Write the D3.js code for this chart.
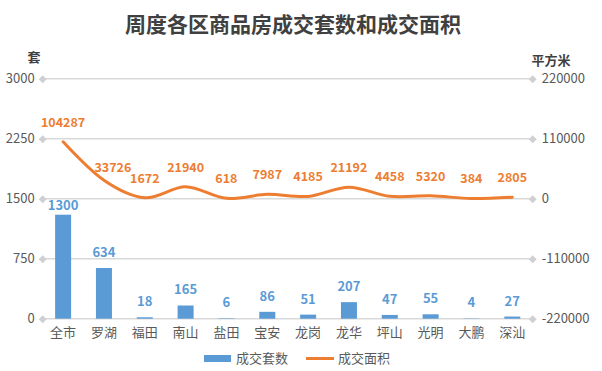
<!DOCTYPE html>
<html>
<head>
<meta charset="utf-8">
<script src="https://cdn.jsdelivr.net/npm/d3@7"></script>
<style>
  body { margin: 0; background: #fff; }
  svg text { font-family: "Noto Sans CJK SC", "Noto Sans", sans-serif; }
</style>
</head>
<body>
<svg id="chart"></svg>
<script>
// chart data
const districts = ['全市', '罗湖', '福田', '南山', '盐田', '宝安', '龙岗', '龙华', '坪山', '光明', '大鹏', '深汕'];
const units = [1300, 634, 18, 165, 6, 86, 51, 207, 47, 55, 4, 27];
const areas = [104287, 33726, 1672, 21940, 618, 7987, 4185, 21192, 4458, 5320, 384, 2805];
const leftTicks = [0, 750, 1500, 2250, 3000];
const rightTicks = [-220000, -110000, 0, 110000, 220000];

const width = 602, height = 371;
const margin = {top: 78.7, right: 69.3, bottom: 52.3, left: 42.7};
const innerW = width - margin.left - margin.right;
const innerH = height - margin.top - margin.bottom;

const blue = '#5B9BD5', orange = '#ED7D31';

const svg = d3.select('#chart')
    .attr('width', width)
    .attr('height', height);

// title
svg.append('text')
    .attr('x', 293)
    .attr('y', 32)
    .attr('text-anchor', 'middle')
    .attr('font-size', 21)
    .attr('font-weight', 'bold')
    .attr('fill', '#404040')
    .text('周度各区商品房成交套数和成交面积');

const chart = svg.append('g')
    .attr('transform', `translate(${margin.left},${margin.top})`);

const xScale = d3.scaleBand()
    .domain(districts)
    .range([0, innerW]);

const yLeft = d3.scaleLinear()
    .domain([0, 3000])
    .range([innerH, 0]);

const yRight = d3.scaleLinear()
    .domain([-220000, 220000])
    .range([innerH, 0]);

// gridlines
chart.append('g')
    .selectAll('line')
    .data(leftTicks)
    .join('line')
    .attr('x1', 0)
    .attr('x2', innerW)
    .attr('y1', d => yLeft(d))
    .attr('y2', d => yLeft(d))
    .attr('stroke', '#D9D9D9')
    .attr('stroke-width', 1.5);

// plain numbers with a hyphen minus, like the original
const plain = d => String(d);

// left axis
const yAxisL = d3.axisLeft(yLeft)
    .tickValues(leftTicks)
    .tickFormat(plain)
    .tickSize(0)
    .tickPadding(8);

const leftG = chart.append('g').call(yAxisL);
leftG.select('.domain').remove();
leftG.selectAll('text')
    .attr('font-size', 13)
    .attr('fill', '#595959');
leftG.selectAll('.tick').append('path')
    .attr('d', 'M0,-4L4,0L0,4L-4,0Z')
    .attr('fill', '#D0D0D0');

// right axis
const yAxisR = d3.axisRight(yRight)
    .tickValues(rightTicks)
    .tickFormat(plain)
    .tickSize(0)
    .tickPadding(9);

const rightG = chart.append('g')
    .attr('transform', `translate(${innerW},0)`)
    .call(yAxisR);
rightG.select('.domain').remove();
rightG.selectAll('text')
    .attr('font-size', 13)
    .attr('fill', '#595959');
rightG.selectAll('.tick').append('path')
    .attr('d', 'M0,-4L4,0L0,4L-4,0Z')
    .attr('fill', '#D0D0D0');

// x axis
const xAxis = d3.axisBottom(xScale)
    .tickSize(0)
    .tickPadding(9);

const xG = chart.append('g')
    .attr('transform', `translate(0,${innerH})`)
    .call(xAxis);
xG.select('.domain').remove();
xG.selectAll('text')
    .attr('font-size', 13)
    .attr('fill', '#595959');

// axis units
svg.append('text')
    .attr('x', 34)
    .attr('y', 62)
    .attr('text-anchor', 'middle')
    .attr('font-size', 13)
    .attr('font-weight', 'bold')
    .attr('fill', '#404040')
    .text('套');

svg.append('text')
    .attr('x', 551)
    .attr('y', 65)
    .attr('text-anchor', 'middle')
    .attr('font-size', 13)
    .attr('font-weight', 'bold')
    .attr('fill', '#404040')
    .text('平方米');

// bars
const barW = 16;
chart.append('g')
    .selectAll('rect')
    .data(units)
    .join('rect')
    .attr('x', (d, i) => xScale(districts[i]) + xScale.bandwidth() / 2 - barW / 2)
    .attr('y', d => yLeft(d))
    .attr('width', barW)
    .attr('height', d => innerH - yLeft(d))
    .attr('fill', blue);

// bar labels (first one was nudged down in the original to clear the line)
chart.append('g')
    .selectAll('text')
    .data(units)
    .join('text')
    .attr('x', (d, i) => xScale(districts[i]) + xScale.bandwidth() / 2)
    .attr('y', (d, i) => yLeft(d) - (i === 0 ? 5 : 11))
    .attr('text-anchor', 'middle')
    .attr('font-size', 13)
    .attr('font-weight', 'bold')
    .attr('fill', blue)
    .text(d => d);

// area line
const line = d3.line()
    .x((d, i) => xScale(districts[i]) + xScale.bandwidth() / 2)
    .y(d => yRight(d))
    .curve(d3.curveCardinal.tension(0));

chart.append('path')
    .datum(areas)
    .attr('d', line)
    .attr('fill', 'none')
    .attr('stroke', orange)
    .attr('stroke-width', 3)
    .attr('stroke-linecap', 'round');

// line labels
chart.append('g')
    .selectAll('text')
    .data(areas)
    .join('text')
    .attr('x', (d, i) => xScale(districts[i]) + xScale.bandwidth() / 2 + (i === 1 ? 9 : 0))
    .attr('y', (d, i) => yRight(d) - (i === 1 ? 8 : 15))
    .attr('text-anchor', 'middle')
    .attr('font-size', 12.5)
    .attr('font-weight', 'bold')
    .attr('fill', orange)
    .text(d => d);

// legend
const legend = svg.append('g');
legend.append('rect')
    .attr('x', 204)
    .attr('y', 355)
    .attr('width', 27)
    .attr('height', 7)
    .attr('fill', blue);
legend.append('text')
    .attr('x', 236)
    .attr('y', 363)
    .attr('font-size', 13)
    .attr('fill', '#595959')
    .text('成交套数');
legend.append('line')
    .attr('x1', 306)
    .attr('x2', 334)
    .attr('y1', 358.5)
    .attr('y2', 358.5)
    .attr('stroke', orange)
    .attr('stroke-width', 3);
legend.append('text')
    .attr('x', 338)
    .attr('y', 363)
    .attr('font-size', 13)
    .attr('fill', '#595959')
    .text('成交面积');
</script>
</body>
</html>
